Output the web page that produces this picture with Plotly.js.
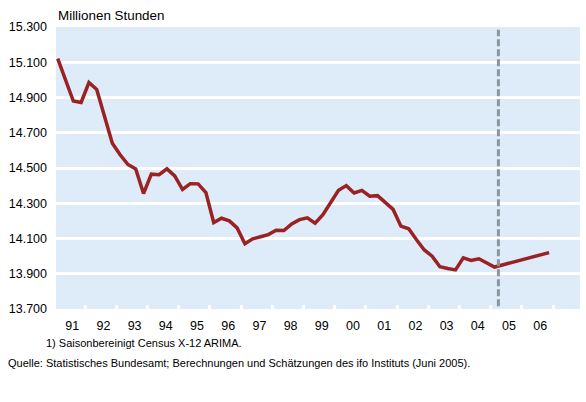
<!DOCTYPE html>
<html>
<head>
<meta charset="utf-8">
<script src="https://cdn.plot.ly/plotly-3.0.1.min.js"></script>
<style>html,body{margin:0;padding:0;background:#fff;}#chart{width:586px;height:402px;}</style>
</head>
<body>
<div id="chart"></div>
<script>
// Quarterly data, 1991 Q1 - 2006 Q4 (2005 Q2 onwards: forecast)
const years = [1991,1992,1993,1994,1995,1996,1997,1998,1999,2000,2001,2002,2003,2004,2005,2006];
const quarters = [1,2,3,4];
const hours = [
  15120, 15005, 14880, 14872,
  14985, 14946, 14800, 14640,
  14575, 14520, 14495, 14355,
  14465, 14462, 14495, 14455,
  14378, 14411, 14410, 14360,
  14190, 14215, 14200, 14160,
  14070, 14098, 14110, 14122,
  14147, 14145, 14183, 14207,
  14217, 14187, 14235, 14300,
  14373, 14400, 14358, 14373,
  14340, 14343, 14305, 14265,
  14170, 14155, 14093, 14035,
  14000, 13940, 13930, 13922,
  13990, 13976, 13985, 13963,
  13938, 13950, 13962, 13973,
  13985, 13997, 14008, 14020
];
const yearLabels = ['91','92','93','94','95','96','97','98','99','00','01','02','03','04','05','06'];
const yTicks = [13700,13900,14100,14300,14500,14700,14900,15100,15300];
const forecastStartYear = 2005, forecastStartQuarter = 2;

// positions: mid-quarter
const x = [];
years.forEach(yr => quarters.forEach(q => x.push(yr + (q - 0.5) / 4)));
const forecastX = forecastStartYear + (forecastStartQuarter - 1) / 4;
const boundaryTicks = years.slice(1).concat([years[years.length-1] + 1]);
const labelPos = years.map(y => y + 0.5 + 0.09);

const xr = [1991.07, 2007.865];
const FONT = 'Liberation Sans, Arial, sans-serif';

const traces = [
  {x: x, y: hours, type: 'scatter', mode: 'lines',
   line: {color: '#9b2222', width: 3.5}, hoverinfo: 'skip', showlegend: false},
  {x: x, y: hours, type: 'scatter', mode: 'lines', xaxis: 'x2',
   line: {color: 'rgba(0,0,0,0)', width: 0}, hoverinfo: 'skip', showlegend: false}
];

const layout = {
  width: 586, height: 402,
  margin: {l: 56, r: 6, t: 27, b: 92.5, pad: 0},
  paper_bgcolor: '#ffffff',
  plot_bgcolor: '#deecfa',
  separators: ',.',
  font: {family: FONT, size: 12.5, color: '#000'},
  showlegend: false,
  title: {text: 'Millionen Stunden', x: 58/586, xanchor: 'left', xref: 'container',
          y: 1 - 15.5/402, yanchor: 'middle', yref: 'container',
          font: {family: FONT, size: 13.4, color: '#000'}},
  xaxis: {range: xr, tickmode: 'array', tickvals: boundaryTicks, showticklabels: false,
          ticks: 'inside', ticklen: 4, tickwidth: 3, tickcolor: '#ffffff',
          showgrid: false, zeroline: false, showline: false, fixedrange: true},
  xaxis2: {range: xr, overlaying: 'x', anchor: 'y', side: 'bottom',
           tickmode: 'array', tickvals: labelPos, ticktext: yearLabels,
           ticks: '', showgrid: false, zeroline: false, showline: false,
           ticklabelstandoff: 7,
           tickfont: {family: FONT, size: 12.5, color: '#000'}},
  yaxis: {range: [13700, 15300], tickmode: 'array', tickvals: yTicks, tickformat: ',d',
          ticks: '', showgrid: true, gridcolor: '#ffffff', gridwidth: 3,
          zeroline: false, showline: false, ticklabelstandoff: 8,
          tickfont: {family: FONT, size: 12.5, color: '#000'}},
  shapes: [
    {type: 'line', xref: 'x', yref: 'paper', x0: forecastX, x1: forecastX, y0: 0.01, y1: 0.99,
     line: {color: '#8c959e', width: 3, dash: '7px,3px'}, layer: 'above'}
  ],
  annotations: [
    {text: '1) Saisonbereinigt Census X-12 ARIMA.', xref: 'paper', yref: 'paper',
     x: (45.7-56)/524, y: (309.5-343.5)/282.5, xanchor: 'left', yanchor: 'middle',
     xshift: -2, showarrow: false, font: {family: FONT, size: 11, color: '#000'}},
    {text: 'Quelle: Statistisches Bundesamt; Berechnungen und Schätzungen des ifo Instituts (Juni 2005).',
     xref: 'paper', yref: 'paper',
     x: (8-56)/524, y: (309.5-364)/282.5, xanchor: 'left', yanchor: 'middle',
     xshift: -2, showarrow: false, font: {family: FONT, size: 11, color: '#000'}}
  ]
};

Plotly.newPlot('chart', traces, layout, {displayModeBar: false, staticPlot: true});
</script>
</body>
</html>
